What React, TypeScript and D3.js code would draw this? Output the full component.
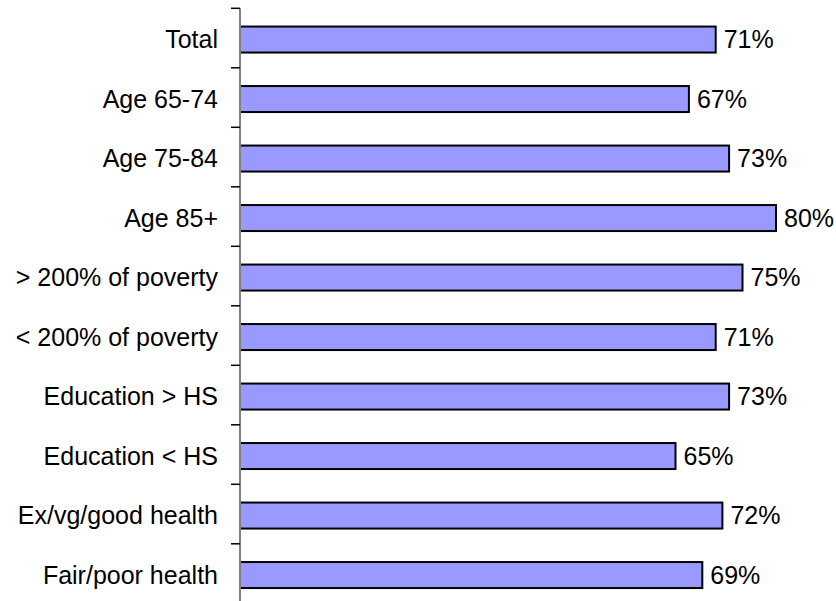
import React from "react";
import * as d3 from "d3";

const categories = [
  "Total",
  "Age 65-74",
  "Age 75-84",
  "Age 85+",
  "> 200% of poverty",
  "< 200% of poverty",
  "Education > HS",
  "Education < HS",
  "Ex/vg/good health",
  "Fair/poor health",
];
const values = [0.71, 0.67, 0.73, 0.8, 0.75, 0.71, 0.73, 0.65, 0.72, 0.69];

const width = 836;
const height = 601;
const axisX = 240;
const font = "'Liberation Sans', Arial, sans-serif";

const App = () => {
  const x = d3.scaleLinear().domain([0, 1]).range([axisX, 910]);
  const y = d3
    .scaleBand<string>()
    .domain(categories)
    .range([8.3, 603.3])
    .paddingInner(0.54)
    .paddingOuter(0.27);

  const step = y.step();
  const boundaries = d3.range(categories.length + 1).map((i) => 8.3 + i * step);
  const fmt = d3.format(".0%");

  return (
    <svg
      width={width}
      height={height}
      style={{ position: "absolute", left: 0, top: 0, background: "#fff" }}
      fontFamily={font}
    >
      {/* bars */}
      {categories.map((c, i) => {
        const cy = y(c)! + y.bandwidth() / 2 + 1.5;
        return (
          <g key={c}>
            <rect
              x={x(0)}
              y={cy - 13}
              width={x(values[i]) - x(0)}
              height={26}
              fill="#9999FF"
              stroke="#000"
              strokeWidth={2}
            />
            <text
              x={x(values[i]) + 8}
              y={cy}
              dy="0.35em"
              fontSize={25}
              fill="#000"
            >
              {fmt(values[i])}
            </text>
            <text x={218} y={cy} dy="0.35em" fontSize={25} textAnchor="end" fill="#000">
              {c}
            </text>
          </g>
        );
      })}

      {/* category axis */}
      <line x1={axisX} x2={axisX} y1={8.3} y2={603.3} stroke="#808080" strokeWidth={2} />
      {boundaries.map((b, i) => (
        <line key={i} x1={231} x2={axisX} y1={b} y2={b} stroke="#000" strokeWidth={1.5} />
      ))}
    </svg>
  );
};

export default App;
